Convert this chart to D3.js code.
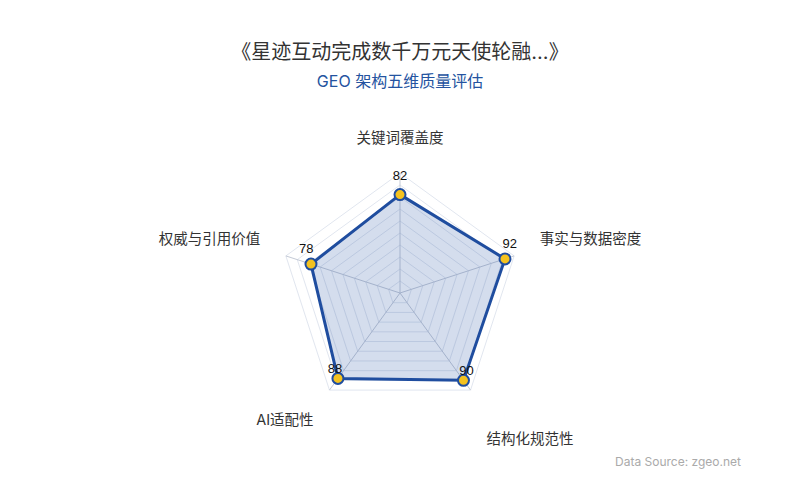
<!DOCTYPE html>
<html>
<head>
<meta charset="utf-8">
<script src="https://cdn.jsdelivr.net/npm/d3@7"></script>
<style>
  html, body { margin: 0; padding: 0; background: #fff; }
  svg text { font-family: Inter, "Noto Sans CJK SC", sans-serif; }
  svg text.val { font-family: "Liberation Sans", Arial, sans-serif; }
</style>
</head>
<body>
<svg id="chart"></svg>
<script>
// dimensions, clockwise from the top
const axisNames = ["关键词覆盖度", "事实与数据密度", "\n结构化规范性", "AI适配性", "权威与引用价值"];
const scores = [82, 92, 90, 88, 78];
const maxScore = 100;
const splitLevels = d3.range(1, 11); // 10 rings

const titleText = "《星迹互动完成数千万元天使轮融...》";
const subtitleText = "GEO 架构五维质量评估";
const sourceText = "Data Source: zgeo.net";

const width = 800, height = 500;
const cx = 400, cy = 293, radius = 120;

const svg = d3.select("#chart").attr("width", width).attr("height", height);

const rScale = d3.scaleLinear().domain([0, maxScore]).range([0, radius]);
const angle = d3.scaleLinear().domain([0, axisNames.length]).range([0, 2 * Math.PI]);

// unit direction for axis i (screen coords)
const dir = i => [Math.sin(angle(i)), -Math.cos(angle(i))];
const pt = (i, v) => { const [ux, uy] = dir(i); return [cx + ux * rScale(v), cy + uy * rScale(v)]; };

svg.append("text")
  .attr("x", width / 2).attr("y", 59)
  .attr("text-anchor", "middle")
  .attr("font-size", 20).attr("fill", "#333")
  .text(titleText);

svg.append("text")
  .attr("x", width / 2).attr("y", 87)
  .attr("text-anchor", "middle")
  .attr("font-size", 16).attr("fill", "#2453a0")
  .text(subtitleText);

const g = svg.append("g");

// rings
g.selectAll(".ring")
  .data(splitLevels)
  .join("polygon")
  .attr("class", "ring")
  .attr("points", lv => axisNames.map((d, i) => pt(i, lv * maxScore / splitLevels.length)).join(" "))
  .attr("fill", "none")
  .attr("stroke", "#e1e6ef")
  .attr("stroke-width", 1);

// spokes
g.selectAll(".spoke")
  .data(axisNames)
  .join("line")
  .attr("class", "spoke")
  .attr("x1", cx).attr("y1", cy)
  .attr("x2", (d, i) => pt(i, maxScore)[0])
  .attr("y2", (d, i) => pt(i, maxScore)[1])
  .attr("stroke", "#c4cad6")
  .attr("stroke-width", 1);

// area
g.append("polygon")
  .attr("points", scores.map((v, i) => pt(i, v)).join(" "))
  .attr("fill", "#2a55a5")
  .attr("fill-opacity", 0.2)
  .attr("stroke", "#1f4d9f")
  .attr("stroke-width", 3)
  .attr("stroke-linejoin", "round");

// points
g.selectAll(".dot")
  .data(scores)
  .join("circle")
  .attr("class", "dot")
  .attr("cx", (v, i) => pt(i, v)[0])
  .attr("cy", (v, i) => pt(i, v)[1])
  .attr("r", 5.5)
  .attr("fill", "#f4c21f")
  .attr("stroke", "#1f4d9f")
  .attr("stroke-width", 2);

// value labels
g.selectAll(".val")
  .data(scores)
  .join("text")
  .attr("class", "val")
  .attr("x", (v, i) => pt(i, v)[0] + dir(i)[0] * 5)
  .attr("y", (v, i) => pt(i, v)[1] + dir(i)[1] * 5 - 9.5)
  .attr("text-anchor", "middle")
  .attr("font-size", 13)
  .attr("fill", "#111")
  .text(v => v);

// axis names
const nameR = radius + 27, nameSize = 14.5, lineH = 19;
const names = g.selectAll(".name")
  .data(axisNames)
  .join("text")
  .attr("class", "name")
  .attr("font-size", nameSize)
  .attr("fill", "#333")
  .attr("text-anchor", (d, i) => {
    const ux = dir(i)[0];
    return Math.abs(ux) < 1e-6 ? "middle" : ux > 0 ? "start" : "end";
  })
  .attr("x", (d, i) => cx + dir(i)[0] * nameR)
  .attr("y", (d, i) => {
    const uy = dir(i)[1];
    const lines = d.split("\n").length;
    const y = cy + uy * nameR;
    // top-aligned below the centre, bottom-aligned above it
    return uy > 0 ? y + nameSize * 0.88 : y - nameSize * 0.22 - (lines - 1) * lineH;
  });

names.each(function (d) {
  const t = d3.select(this);
  const x = t.attr("x");
  d.split("\n").forEach((line, k) => {
    t.append("tspan").attr("x", x).attr("dy", k === 0 ? 0 : lineH).text(line);
  });
});

svg.append("text")
  .attr("x", 741).attr("y", 466)
  .attr("text-anchor", "end")
  .attr("font-size", 12)
  .attr("fill", "#aaa")
  .text(sourceText);
</script>
</body>
</html>
